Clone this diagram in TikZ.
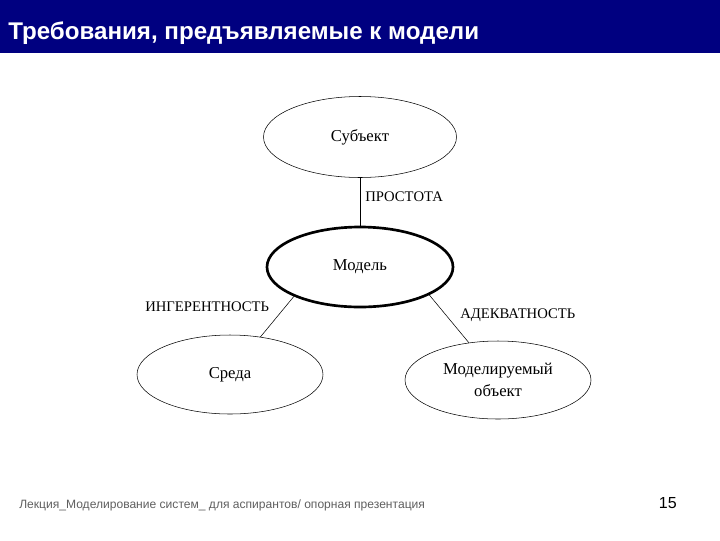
\documentclass[tikz,border=0pt]{standalone}
\usepackage{fontspec}
\setmainfont{Liberation Serif}
\setsansfont{Liberation Sans}
\usepackage{tikz}
\usetikzlibrary{shapes,arrows}
\definecolor{titleblue}{RGB}{0,0,128}
\definecolor{footgray}{RGB}{95,95,95}
\tikzstyle{myellipse} = [draw=black, ellipse, inner sep=0pt, align=center, font=\fontsize{12.5}{16}\selectfont]
\tikzstyle{mylabel} = [inner sep=0pt, anchor=west, font=\fontsize{11}{13}\selectfont]
\tikzstyle{myline} = [draw=black, thin]

\begin{document}
\begin{tikzpicture}[x=0.75pt, y=-0.75pt]
\useasboundingbox (0,0) rectangle (720,540);
% barra del titolo
\fill[titleblue] (0,0) rectangle (720,53);
\node[anchor=base west, inner sep=0pt, text=white, font=\sffamily\bfseries\fontsize{18.1}{20}\selectfont] (title) at (8,39) {Требования, предъявляемые к модели};

% ellissi
\node[myellipse, minimum width=144.75pt, minimum height=60.75pt] (subject) at (360,137) {Субъект};
\node[myellipse, line width=2pt, minimum width=139.5pt, minimum height=60pt] (model) at (360,267) {Модель};
\node[myellipse, minimum width=139.5pt, minimum height=59.25pt] (env) at (230,374.5) {Среда};
\node[myellipse, minimum width=139.5pt, minimum height=58.5pt] (object) at (498,380) {Моделируемый\\объект};

% collegamenti
\draw[myline] (subject) -- (model);
\draw[myline] (model.204) -- (env.51);
\draw[myline] (model.338) -- (object.128);

% etichette
\node[mylabel] (simple) at (365,197) {ПРОСТОТА};
\node[mylabel] (inher) at (145,307) {ИНГЕРЕНТНОСТЬ};
\node[mylabel] (adeq) at (460,315) {АДЕКВАТНОСТЬ};

% pie di pagina
\node[anchor=base west, inner sep=0pt, text=footgray, font=\sffamily\fontsize{9.05}{11}\selectfont] (footer) at (19,508) {Лекция\_Моделирование систем\_ для аспирантов/ опорная презентация};
\node[anchor=base east, inner sep=0pt, font=\sffamily\fontsize{12}{14}\selectfont] (page) at (677,508) {15};
\end{tikzpicture}
\end{document}
